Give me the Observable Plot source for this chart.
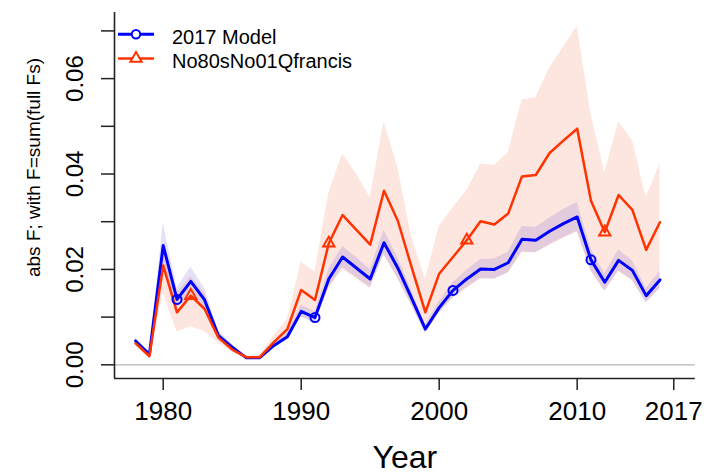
<!DOCTYPE html>
<html>
<head>
<meta charset="utf-8">
<script src="https://cdn.jsdelivr.net/npm/d3@7"></script>
<script src="https://cdn.jsdelivr.net/npm/@observablehq/plot@0.6"></script>
<style>
  html, body { margin: 0; padding: 0; background: #ffffff; }
</style>
</head>
<body>
<div id="chart"></div>
<script>
// ---------- data ----------
const years = [1978,1979,1980,1981,1982,1983,1984,1985,1986,1987,1988,1989,
  1990,1991,1992,1993,1994,1995,1996,1997,1998,1999,
  2000,2001,2002,2003,2004,2005,2006,2007,2008,2009,
  2010,2011,2012,2013,2014,2015,2016];

const model2017 = [0.0050,0.0022,0.0250,0.0137,0.0175,0.0136,0.0061,0.0037,0.0015,0.0015,0.0040,0.0059,
  0.0112,0.0099,0.0180,0.0226,0.0203,0.0180,0.0256,0.0203,0.0140,0.0075,
  0.0120,0.0156,0.0180,0.0201,0.0200,0.0214,0.0263,0.0261,0.0280,0.0296,
  0.0310,0.0220,0.0173,0.0219,0.0198,0.0145,0.0178];
const model2017Lo = [0.0044,0.0019,0.0215,0.0118,0.0150,0.0117,0.0052,0.0032,0.0013,0.0013,0.0035,0.0052,
  0.0100,0.0088,0.0162,0.0204,0.0183,0.0162,0.0231,0.0182,0.0125,0.0067,
  0.0108,0.0140,0.0162,0.0181,0.0180,0.0193,0.0237,0.0235,0.0252,0.0267,
  0.0280,0.0198,0.0155,0.0197,0.0178,0.0130,0.0160];
const model2017Hi = [0.0056,0.0024,0.0296,0.0160,0.0205,0.0160,0.0072,0.0042,0.0017,0.0017,0.0045,0.0066,
  0.0125,0.0111,0.0200,0.0248,0.0225,0.0200,0.0282,0.0225,0.0156,0.0084,
  0.0132,0.0172,0.0198,0.0221,0.0222,0.0236,0.0290,0.0288,0.0308,0.0325,
  0.0341,0.0243,0.0191,0.0241,0.0218,0.0160,0.0196];

const francis = [0.0045,0.0018,0.0208,0.0110,0.0145,0.0117,0.0057,0.0032,0.0016,0.0016,0.0047,0.0075,
  0.0157,0.0136,0.0255,0.0314,0.0283,0.0252,0.0365,0.0302,0.0205,0.0110,
  0.0191,0.0226,0.0261,0.0301,0.0294,0.0317,0.0395,0.0398,0.0444,0.0470,
  0.0495,0.0344,0.0278,0.0356,0.0325,0.0241,0.0299];
const francisLo = [0.0040,0.0015,0.0150,0.0068,0.0080,0.0070,0.0045,0.0027,0.0013,0.0013,0.0035,0.0055,
  0.0100,0.0088,0.0160,0.0200,0.0180,0.0160,0.0230,0.0180,0.0125,0.0065,
  0.0108,0.0140,0.0160,0.0180,0.0180,0.0192,0.0235,0.0235,0.0250,0.0265,
  0.0278,0.0195,0.0155,0.0195,0.0176,0.0130,0.0160];
const francisHi = [0.0052,0.0022,0.0240,0.0150,0.0185,0.0150,0.0070,0.0040,0.0019,0.0019,0.0060,0.0095,
  0.0215,0.0195,0.0360,0.0442,0.0400,0.0351,0.0509,0.0414,0.0268,0.0180,
  0.0290,0.0330,0.0365,0.0421,0.0418,0.0445,0.0555,0.0560,0.0622,0.0666,
  0.0710,0.0525,0.0402,0.0509,0.0470,0.0351,0.0421];

const seriesNames = ["2017 Model", "No80sNo01Qfrancis"];
const modelMarkerYears = [1981, 1991, 2001, 2011];
const francisMarkerYears = [1982, 1992, 2002, 2012];
const xTicks = [1980, 1990, 2000, 2010, 2017];
const yTicks = [0, 0.01, 0.02, 0.03, 0.04, 0.05, 0.06, 0.07];
const yTickLabels = [0, 0.02, 0.04, 0.06];
const xTitle = "Year";
const yTitle = "abs F; with F=sum(full Fs)";

// ---------- styles ----------
const FONT = "'Liberation Sans', Arial, Helvetica, sans-serif";
const BLUE = "#0000ff";
const RED = "#ff3300";
const xDomain = [1976.47, 2018.56];
const yDomain = [-0.00287, 0.07386];

const rows = years.map((year, i) => ({
  year,
  model: model2017[i], modelLo: model2017Lo[i], modelHi: model2017Hi[i],
  francis: francis[i], francisLo: francisLo[i], francisHi: francisHi[i]
}));

function legendMark() {
  const g = d3.create("svg:g")
    .attr("font-family", FONT)
    .attr("font-size", 20)
    .attr("text-anchor", "start")
    .attr("fill", "#000");
  const colors = [BLUE, RED];
  seriesNames.forEach((name, i) => {
    const y = 34.3 + i * 24.3;
    g.append("line")
      .attr("x1", 118).attr("x2", 154).attr("y1", y).attr("y2", y)
      .attr("stroke", colors[i]).attr("stroke-width", i ? 2.5 : 3);
    if (i === 0) {
      g.append("circle").attr("cx", 136).attr("cy", y).attr("r", 4.2)
        .attr("fill", "white").attr("stroke", BLUE).attr("stroke-width", 2);
    } else {
      g.append("path")
        .attr("d", d3.symbol(d3.symbolTriangle, Math.PI * 4.2 * 4.2)())
        .attr("transform", `translate(136,${y})`)
        .attr("fill", "white").attr("stroke", RED).attr("stroke-width", 2);
    }
    g.append("text").attr("x", 172).attr("y", y + 9.3)
      .attr("text-anchor", "start").text(name);
  });
  return g.node();
}

const chart = Plot.plot({
  width: 719,
  height: 476,
  marginLeft: 114,
  marginRight: 24.2,
  marginTop: 12,
  marginBottom: 98,
  style: { fontFamily: FONT, background: "#ffffff", color: "#000" },
  x: { domain: xDomain },
  y: { domain: yDomain },
  marks: [
    Plot.areaY(rows, { x: "year", y1: "francisLo", y2: "francisHi", fill: "#fde6df" }),
    Plot.areaY(rows, { x: "year", y1: "modelLo", y2: "modelHi", fill: "#5a48d0", fillOpacity: 0.17 }),
    Plot.ruleY([0], { stroke: "#b4b4b4", strokeWidth: 1.2 }),
    Plot.lineY(rows, { x: "year", y: "model", stroke: BLUE, strokeWidth: 3 }),
    Plot.lineY(rows, { x: "year", y: "francis", stroke: RED, strokeWidth: 2.5 }),
    Plot.dot(rows.filter(d => modelMarkerYears.includes(d.year)),
      { x: "year", y: "model", r: 4.5, stroke: BLUE, strokeWidth: 2, fill: "none" }),
    Plot.dot(rows.filter(d => francisMarkerYears.includes(d.year)),
      { x: "year", y: "francis", r: 4.2, symbol: "triangle", stroke: RED, strokeWidth: 2, fill: "none" }),
    Plot.ruleX([xDomain[0]], { stroke: "#222", strokeWidth: 1.6 }),
    Plot.ruleY([yDomain[0]], { stroke: "#222", strokeWidth: 1.6 }),
    Plot.axisX(xTicks, {
      tickSize: 12, tickPadding: 11, fontSize: 26, strokeWidth: 1.5, stroke: "#222",
      tickFormat: d => String(d), label: null
    }),
    Plot.axisY(yTicks, {
      tickSize: 13, strokeWidth: 1.5, stroke: "#222", tickFormat: () => "", label: null
    }),
    Plot.text(yTickLabels, {
      y: d => d, text: d => d.toFixed(2), frameAnchor: "left", dx: -32,
      rotate: -90, lineAnchor: "bottom", textAnchor: "middle", fontSize: 24
    }),
    Plot.text([xTitle], { frameAnchor: "bottom", dy: 89, lineAnchor: "bottom", fontSize: 32 }),
    Plot.text([yTitle], {
      frameAnchor: "left", dx: -81, dy: -28, rotate: -90,
      textAnchor: "middle", lineAnchor: "middle", fontSize: 19
    }),
    legendMark
  ]
});

document.getElementById("chart").appendChild(chart);
</script>
</body>
</html>
